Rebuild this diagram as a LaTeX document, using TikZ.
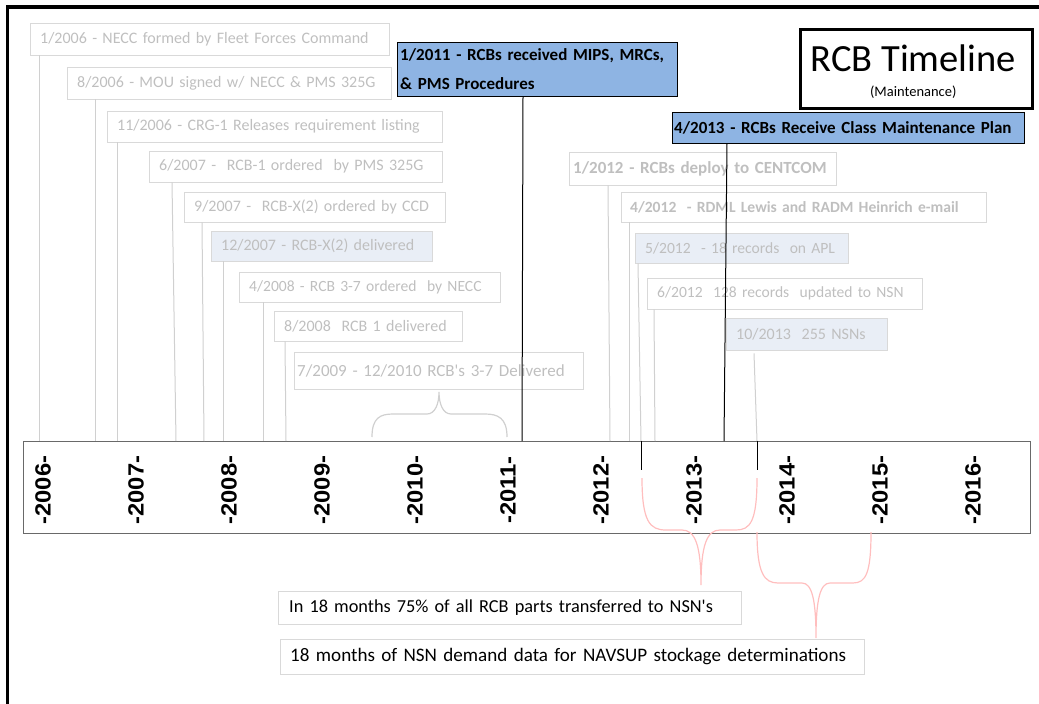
\documentclass[tikz,border=0pt]{standalone}
\usepackage{fontspec}
\setmainfont{Carlito}
\newfontfamily\yearfont{Liberation Sans}

\definecolor{txtgray}{RGB}{191,191,191}
\definecolor{edgegray}{RGB}{217,217,217}
\definecolor{lightfill}{RGB}{233,238,246}
\definecolor{linegray}{RGB}{208,208,208}
\definecolor{keyblue}{RGB}{142,180,227}
\definecolor{bracered}{RGB}{255,190,190}
\definecolor{tlgray}{RGB}{105,105,105}

\begin{document}
\begin{tikzpicture}[x=1pt, y=-1pt,
  evbox/.style={draw=edgegray, text=txtgray, anchor=north west, align=left,
    inner xsep=10pt, inner ysep=0pt, font=\fontsize{16}{19}\selectfont},
  evfilled/.style={evbox, fill=lightfill},
  evsmall/.style={font=\fontsize{15.6}{19}\selectfont},
  evbold/.style={evbox, font=\bfseries\fontsize{17}{20}\selectfont},
  keybox/.style={draw=black, fill=keyblue, text=black, anchor=north west, align=left,
    inner xsep=3pt, inner ysep=0pt, font=\bfseries\fontsize{17}{29}\selectfont},
  notebox/.style={evbox, text=black, font=\fontsize{18.8}{22}\selectfont},
  evline/.style={draw=linegray, line width=1pt},
  keyline/.style={draw=black, line width=1pt},
  bracepath/.style={line width=1.2pt},
  yearlabel/.style={rotate=90, inner sep=0pt, font=\yearfont\bfseries\fontsize{22}{24}\selectfont}]

\useasboundingbox (0,0) rectangle (1039,704);
\clip (0,0) rectangle (1039,704);
\draw[line width=3.5pt] (7.5,7) rectangle (1060,720);

% timeline bar
\node[draw=tlgray, line width=1.2pt, anchor=north west, inner sep=0pt,
  minimum width=1007pt, minimum height=92pt] (tl) at (23,441) {};
\foreach \yr [count=\i from 0] in {2006,...,2016}
  \node[yearlabel] (y\yr) at (43+93*\i, 490) {\scalebox{1.08}[1]{-\yr-}};

% events 2006 - 2010
\node[evbox, text width=339pt, minimum height=32pt] (e0106) at (30,23) {1/2006 - NECC formed by Fleet Forces Command};
\node[evbox, text width=304pt, minimum height=32pt] (e0806) at (67,67) {8/2006 - MOU signed w/ NECC \& PMS 325G};
\node[evbox, text width=315pt, minimum height=31pt] (e1106) at (107,111) {11/2006 - CRG-1 Releases requirement listing};
\node[evbox, text width=273pt, minimum height=31pt] (e0607) at (149,151) {6/2007 -~ RCB-1 ordered~ by PMS 325G};
\node[evbox, text width=241pt, minimum height=30pt] (e0907) at (184,192) {9/2007 -~ RCB-X(2) ordered by CCD};
\node[evfilled, text width=201pt, minimum height=30pt] (e1207) at (211,231) {12/2007 - RCB-X(2) delivered};
\node[evbox, evsmall, text width=241pt, minimum height=30pt] (e0408) at (239,272) {4/2008 - RCB 3-7 ordered~ by NECC};
\node[evbox, text width=168pt, minimum height=30pt] (e0808) at (274,311) {8/2008~ RCB 1 delivered};
\node[evbox, inner xsep=3pt, text width=283pt, minimum height=37pt, font=\fontsize{17}{20}\selectfont] (e0709) at (294,352) {7/2009 - 12/2010 RCB\textquotesingle s 3-7 Delivered};

% events 2011 - 2013
\node[keybox, text width=274pt, minimum height=54pt] (e0111) at (397,42) {1/2011 - RCBs received MIPS, MRCs,\\\& PMS Procedures};
\node[keybox, inner xsep=2pt, text width=348pt, minimum height=31pt] (e0413) at (672,112) {4/2013 - RCBs Receive Class Maintenance Plan};
\node[evbold, inner xsep=4pt, text width=259pt, minimum height=33pt] (e0112) at (569,152) {1/2012 - RCBs deploy to CENTCOM};
\node[evbold, inner xsep=9pt, text width=347pt, minimum height=30pt, font=\bfseries\fontsize{15.6}{19}\selectfont] (e0412) at (621,192) {4/2012~ - RDML Lewis and RADM Heinrich e-mail};
\node[evfilled, evsmall, text width=193pt, minimum height=30pt] (e0512) at (635,233) {5/2012~ - 18 records~ on APL};
\node[evbox, evsmall, text width=255pt, minimum height=31pt] (e0612) at (647,278) {6/2012~ 128 records~ updated to NSN};
\node[evfilled, text width=141pt, minimum height=32pt] (e1013) at (726,318) {10/2013~ 255 NSNs};

% title
\node[draw=black, line width=2.5pt, anchor=north west, inner sep=0pt,
  minimum width=232pt, minimum height=79pt] (title) at (799,28) {};
\node[anchor=base, inner sep=0pt, font=\fontsize{38.5}{40}\selectfont] (ttext) at ([xshift=-3pt, yshift=-43pt]title.north) {RCB Timeline};
\node[anchor=base, inner sep=0pt, font=\fontsize{14.5}{16}\selectfont] (tsub) at ([xshift=-3pt, yshift=-68pt]title.north) {(Maintenance)};

% notes
\node[notebox, inner xsep=11pt, text width=441pt, minimum height=33pt, font=\fontsize{18.3}{22}\selectfont] (n75) at (278,591) {In 18 months 75\% of all RCB parts transferred to NSN\textquotesingle s};
\node[notebox, text width=564pt, minimum height=35pt, font=\fontsize{19.1}{22}\selectfont] (n18) at (280,639) {18 months of NSN demand data for NAVSUP stockage determinations};

% drop lines
\draw[evline] (39,0 |- e0106.south) -- (39,0 |- tl.north);
\draw[evline] (95,0 |- e0806.south) -- (95,0 |- tl.north);
\draw[evline] (117,0 |- e1106.south) -- (117,0 |- tl.north);
\draw[evline] (172,0 |- e0607.south) -- (176,0 |- tl.north);
\draw[evline] (202,0 |- e0907.south) -- (204,0 |- tl.north);
\draw[evline] (223,0 |- e1207.south) -- (223,0 |- tl.north);
\draw[evline] (263,0 |- e0408.south) -- (263,0 |- tl.north);
\draw[evline] (285,0 |- e0808.south) -- (286,0 |- tl.north);
\draw[evline] (608,0 |- e0112.south) -- (610,0 |- tl.north);
\draw[evline] (629,0 |- e0412.south) -- (629,0 |- tl.north);
\draw[evline] (638,0 |- e0512.south) -- (641,0 |- tl.north);
\draw[evline] (654,0 |- e0612.south) -- (655,0 |- tl.north);
\draw[evline] ([yshift=-3pt]754,0 |- e1013.south) -- (757,0 |- tl.north);
\draw[keyline] (641,0 |- tl.north) -- (641,470);
\draw[keyline] (757,0 |- tl.north) -- (757,470);
\draw[keyline] (523,0 |- e0111.south) -- (522,0 |- tl.north);
\draw[keyline] (727,0 |- e0413.south) -- (724,0 |- tl.north);

% braces
\draw[linegray, bracepath] (372,437) .. controls (372,418) and (380,414) .. (393,414) -- (427,414)
  .. controls (435,414) and (439,404) .. (439,392) .. controls (439,404) and (443,414) .. (451,414)
  -- (485,414) .. controls (498,414) and (507,418) .. (507,437);
\draw[bracered, bracepath] (642,478) .. controls (642,522) and (650,530) .. (666,530) -- (682,530)
  .. controls (695,530) and (701,545) .. (701,585) .. controls (701,545) and (707,530) .. (720,530)
  -- (736,530) .. controls (750,530) and (757,522) .. (757,478);
\draw[bracered, bracepath] (757,532) .. controls (757,573) and (764,583) .. (778,583) -- (802,583)
  .. controls (812,583) and (816,600) .. (816,638) .. controls (816,600) and (820,583) .. (830,583)
  -- (853,583) .. controls (866,583) and (871,573) .. (871,532);
\end{tikzpicture}
\end{document}
